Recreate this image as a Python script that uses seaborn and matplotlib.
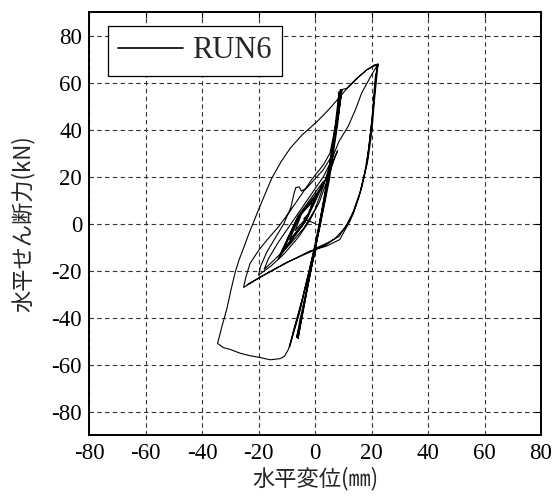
import numpy as np
import pandas as pd
import matplotlib
matplotlib.use("Agg")
import matplotlib.pyplot as plt
import seaborn as sns

# ---- data (displacement mm, shear force kN), in time order ----
small_x = [0, -2, -4, -2.0, -1, -4.7, -7, -2.8, 0, -5.3, -9, -3.2, 1, -5.9, -11, -3.6, 2,
           -6.2, -12.5, -3.8, 3, -6, -13, -3, 5]
small_y = [0, 1, 2, 4.5, 9, 4.3, -3, 2.8, 11, 3.5, -7, 1.5, 13, 2.6, -11, 0.4, 15,
           2.4, -13.5, 0.5, 18, 3.2, -15, 1.6, 22]

mid_x = [6.5, 8, 7, 4.5, 1.5, -2, -6, -11, -15.5, -20, -19.2, -17, -14, -11, -8.5, -7.5,
         -6.8, -5.6, -4.8, -3, 0, 3, 5.3]
mid_y = [27, 31, 28, 19, 9, 1, -6, -13, -18, -22, -18, -12, -6, 0, 7, 12.5,
         15.3, 15.6, 13.8, 15, 19, 23, 27.5]

mid2_x = [6.5, 5.5, 3, 0, -4, -9, -14, -18, -16.5, -13, -9, -5, -1, 3, 5.5]
mid2_y = [31, 26, 16, 6, -2, -9, -15, -19.5, -15, -8, -1, 6, 13, 20, 26]

push_x = [8.5, 11.8, 14.5, 16.5, 20, 22.3, 22, 21, 20.2, 18.8, 16.5, 14.1, 12.4, 10.5, 8.8,
          4.1, -1.8, -5.3, -12, -19.4, -25.3, -24.4, -23, -20, -17, -13, -9, -5, -1, 3, 5.3]
push_y = [35, 41.5, 49, 55.5, 63.2, 67.8, 64, 52, 40, 27.5, 15, 6.5, 1, -3, -6.8,
          -9.6, -11.7, -13.8, -18, -22.9, -27.2, -22.5, -17, -11.5, -7, -1.5, 5, 12, 19, 25, 30]

steep_x = [7.5, 9, 8.5, 7, 4.5, 2, -0.5, -3, -6, -5, -2.5, 0.3, 3, 6, 8.5, 8, 6, 3.5, 0.5,
           -2.5, -5, -6.5, -5.5, -3, 0, 3.5, 7, 9.5, 8.5, 6.5, 4, 1, -2, -5.5, -9, -7.5,
           -4.5, -1.5, 1.5, 5, 8, 9.5]
steep_y = [43, 57, 51, 38, 20, 3, -14, -30, -49, -42, -26, -10, 8, 30, 56, 47, 32, 12, -8,
           -26, -41, -48.5, -42, -28, -11, 10, 36, 57, 48, 33, 15, -3, -20, -38, -52.5, -45,
           -32, -17, -3, 18, 42, 57]

big_x = [11.2, 14.5, 18.2, 22.3, 21.6, 20.7, 19.6, 18.3, 16, 13.5, 11.5, 8.5, 4, 0.6, -1.2,
         -2.9, -5.9, -7.7, -9.4, -10.8, -12.4, -15.9, -19.5, -22.9, -26.5, -30, -32.5, -34.5,
         -34.1, -33, -31.2, -29.8, -28.2, -26.8, -25.3, -23.3, -21.2, -18.5, -15.3, -12, -8.8,
         -4.5, 0.6, 5.5, 11.2, 14.5, 18.2, 21, 22.3]
big_y = [57.5, 61.5, 65.3, 67.8, 63, 50, 38, 25, 13.5, 5, 0, -5.5, -8.5, -10.3, -17.5,
         -24.5, -39, -46.5, -53.5, -56.5, -57.5, -58, -57, -56.3, -55.2, -53.6, -52.8, -51,
         -49.2, -44, -36.3, -28.5, -20.5, -15.2, -10.5, -4, 2.3, 10.2, 19.3, 26.3, 32,
         37.8, 43.2, 49.3, 57.3, 61.2, 65.3, 67.5, 67.8]

end_x = [21.3, 20.2, 19, 17.5, 15.5, 13.5, 10.5, 7, 4, -2, -10, -19, -24]
end_y = [62, 45, 32, 21, 11, 4, -2, -6.5, -9, -12.3, -16.5, -22.5, -26]

ticks = [-80, -60, -40, -20, 0, 20, 40, 60, 80]
series_name = "RUN6"

disp = np.concatenate([small_x, mid_x, mid2_x, push_x, steep_x, big_x, end_x])
force = np.concatenate([small_y, mid_y, mid2_y, push_y, steep_y, big_y, end_y])
df = pd.DataFrame({"disp": disp, "force": force, "run": series_name})

# ---- style ----
sns.set_style("white")
plt.rcParams["font.family"] = ["Liberation Serif", "DejaVu Serif"]

fig = plt.figure(figsize=(5.55, 4.98), dpi=100)
ax = fig.add_axes([0.1604, 0.1265, 0.8144, 0.8494])

sns.lineplot(data=df, x="disp", y="force", sort=False, estimator=None,
             color="black", linewidth=0.8, label=series_name, ax=ax)

ax.set_xlim(-80, 80)
ax.set_ylim(-90, 90)
ax.set_xticks(ticks)
ax.set_yticks(ticks)
ax.set_xticklabels([str(t) for t in ticks])
ax.set_yticklabels([str(t) for t in ticks])
ax.grid(True, color="#333333", linestyle=(0, (4, 3)), linewidth=0.8)
ax.set_axisbelow(True)

for sp in ax.spines.values():
    sp.set_visible(True)
    sp.set_color("black")
    sp.set_linewidth(1.4)

ax.tick_params(axis="both", which="both", direction="in", length=4, width=0.8,
               top=True, right=True, labelsize=16.5, colors="black")
ax.tick_params(axis="y", pad=5)
ax.tick_params(axis="x", pad=6)

jp = ["Noto Sans CJK JP", "DejaVu Sans"]
ax.set_xlabel("水平変位(㎜)", fontsize=16, family=jp, labelpad=2)
ax.set_ylabel("水平せん断力(kN)", fontsize=16, family=jp, labelpad=12)

leg = ax.legend(loc="upper left", bbox_to_anchor=(0.0414, 0.9676), borderaxespad=0,
                fancybox=False, framealpha=1, edgecolor="black",
                prop={"family": "Liberation Serif", "size": 22},
                handlelength=2.1, handletextpad=0.3, borderpad=0.35)
leg.get_frame().set_linewidth(0.9)
for h in leg.get_lines():
    h.set_linewidth(1.2)

fig.savefig("out.png", dpi=100)
